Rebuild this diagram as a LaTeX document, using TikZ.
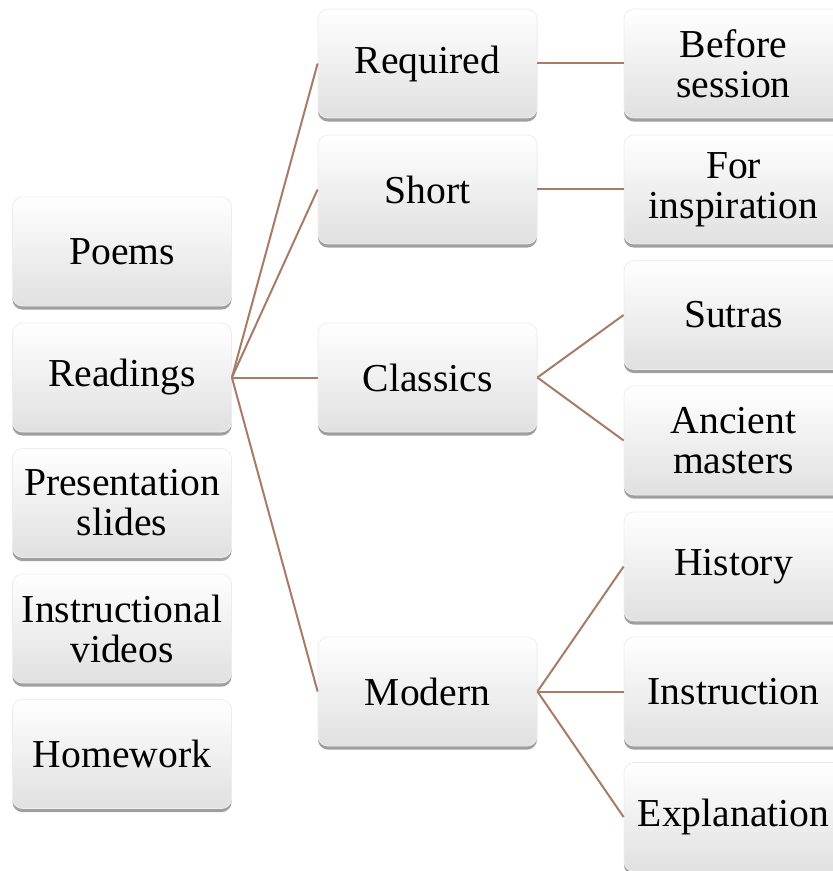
\documentclass[tikz,border=0pt]{standalone}
\usepackage{fontspec}
\setmainfont{Liberation Serif}
\usetikzlibrary{shadows}
\definecolor{linkbrown}{HTML}{A67C66}
\definecolor{boxbottom}{HTML}{E0E0E0}
\definecolor{boxmid}{HTML}{F9F9F9}
\definecolor{boxedge}{HTML}{EDEDED}

\tikzset{
  card/.style={rounded corners=5pt, minimum width=109.5pt, minimum height=54.5pt,
    inner sep=1pt, align=center, font=\fontsize{19.8}{20}\selectfont,
    top color=white, middle color=boxmid, bottom color=boxbottom, draw=boxedge, line width=0.4pt,
    drop shadow={shadow xshift=0pt, shadow yshift=-1.8pt, opacity=0.5, fill=black!75}},
  link/.style={draw=linkbrown, line width=1pt}
}

\begin{document}
\begin{tikzpicture}[x=0.5pt, y=-0.5pt]

% Page
\useasboundingbox (0,0) rectangle (833,871);
\clip (0,0) rectangle (833,871);

% Left column
\node[card] (poems) at (122,251.5) {Poems};
\node[card] (readings) at (122,377.5) {Readings};
\node[card] (slides) at (122,503) {Presentation\\slides};
\node[card] (videos) at (122,628.5) {Instructional\\videos};
\node[card] (homework) at (122,754) {Homework};

% Middle column
\node[card] (required) at (427.5,63.5) {Required};
\node[card] (short) at (427.5,189.5) {Short};
\node[card] (classics) at (427.5,377.5) {Classics};
\node[card] (modern) at (427.5,691.5) {Modern};

% Right column
\node[card] (before) at (733.5,63.5) {Before\\session};
\node[card] (inspire) at (733.5,189.5) {For\\inspiration};
\node[card] (sutras) at (733.5,315) {Sutras};
\node[card] (ancient) at (733.5,440.5) {Ancient\\masters};
\node[card] (history) at (733.5,566.5) {History};
\node[card] (instruct) at (733.5,691.5) {Instruction};
\node[card] (explain) at (733.5,817) {Explanation};

% Links
\foreach \t in {required, short, classics, modern}
  \draw[link] (readings.east) -- (\t.west);
\draw[link] (required.east) -- (before.west);
\draw[link] (short.east) -- (inspire.west);
\foreach \t in {sutras, ancient}
  \draw[link] (classics.east) -- (\t.west);
\foreach \t in {history, instruct, explain}
  \draw[link] (modern.east) -- (\t.west);

\end{tikzpicture}
\end{document}
